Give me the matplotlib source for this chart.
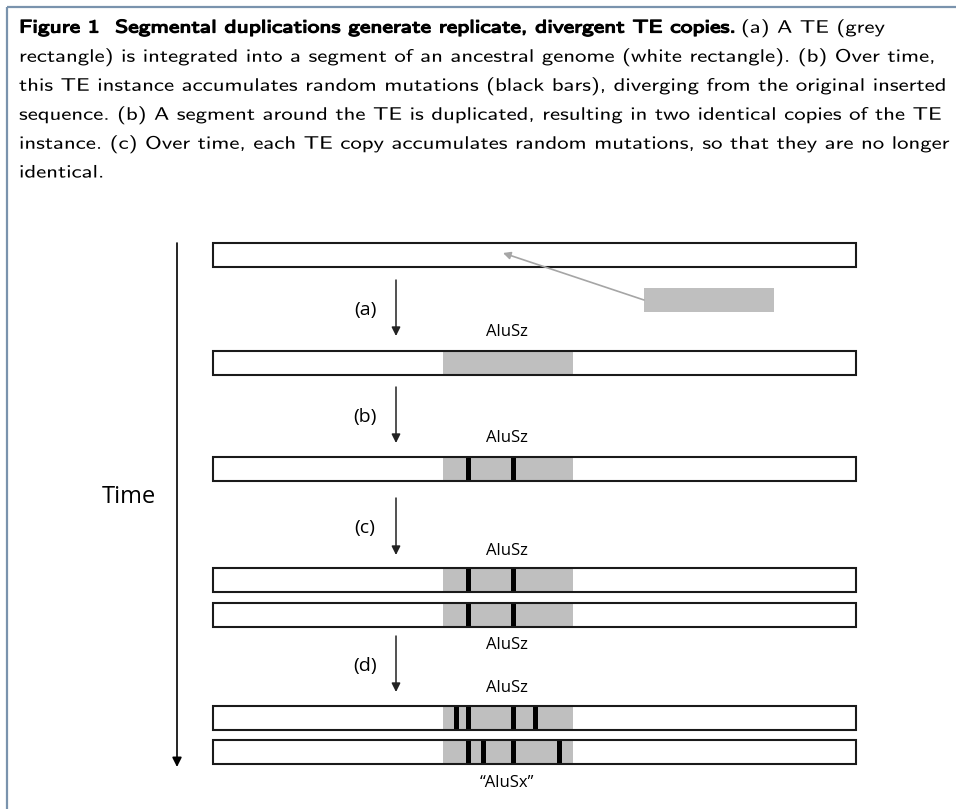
### schematic: segmental duplications make replicate, divergent TE copies
import matplotlib.pyplot as plt
from matplotlib.patches import Rectangle
from matplotlib.transforms import Affine2D
import matplotlib.patheffects as pe

### caption lines, as broken in the figure
caption_bold = "Figure 1  Segmental duplications generate replicate, divergent TE copies."
caption_first_rest = "(a) A TE (grey"
caption_lines = ["rectangle) is integrated into a segment of an ancestral genome (white rectangle). (b) Over time,",
                 "this TE instance accumulates random mutations (black bars), diverging from the original inserted",
                 "sequence. (b) A segment around the TE is duplicated, resulting in two identical copies of the TE",
                 "instance. (c) Over time, each TE copy accumulates random mutations, so that they are no longer",
                 "identical."]

### genome segments (pixel-ish units of the drawing)
seg_span = (213, 856)
te_span = (443, 573)
row_tops = [243, 351, 457, 568, 603, 706, 740]
row_has_te = [False, True, True, True, True, True, True]
row_mutations = [[], [], [469, 514], [469, 514], [469, 514],
                 [457, 469, 514, 536], [469, 484, 514, 560]]

### steps
step_labels = ["(a)", "(b)", "(c)", "(d)"]
step_arrow_y = [(280, 336), (387, 443), (498, 555), (636, 692)]
te_labels = ["AluSz", "AluSz", "AluSz", "AluSz", "AluSz", "\u201cAluSx\u201d"]
te_label_y = [332, 438, 551, 645, 688, 783]

### free TE waiting to insert
free_te = (644, 288, 130, 24)
insert_target = (503, 253)

W, H = 956, 809
row_h = 24
mut_w = 5
te_grey = '#bfbfbf'
frame_col = '#7a93ad'


class StretchX(pe.AbstractPathEffect):
    ### widen glyphs around x0 (display px); optional stroke to fake bold
    def __init__(self, sx, x0, stroke=0.0):
        super().__init__()
        self.sx, self.x0, self.stroke = sx, x0, stroke

    def draw_path(self, renderer, gc, tpath, affine, rgbFace=None):
        t = affine + Affine2D().translate(-self.x0, 0).scale(self.sx, 1).translate(self.x0, 0)
        if self.stroke > 0:
            gc0 = renderer.new_gc()
            gc0.copy_properties(gc)
            gc0.set_linewidth(self.stroke)
            gc0.set_foreground('black')
            renderer.draw_path(gc0, tpath, t, rgbFace)
            gc0.restore()
        renderer.draw_path(gc, tpath, t, rgbFace)


fig = plt.figure(figsize=(W / 100, H / 100), dpi=100)
ax = fig.add_axes([0, 0, 1, 1])
ax.set_xlim(0, W)
ax.set_ylim(H, 0)
ax.axis('off')

### frame (only top + left show in the crop)
ax.plot([7, W], [7, 7], color=frame_col, lw=1.6, solid_capstyle='butt')
ax.plot([7, 7], [7, H], color=frame_col, lw=1.6, solid_capstyle='butt')

### caption
cap_font = 'cmss10'
cap_size = 13
cap_x = 19
cap_y0 = 28
cap_dy = 29
renderer = fig.canvas.get_renderer()


def px_width(txt):
    return txt.get_window_extent(renderer).width


bold_txt = ax.text(cap_x, cap_y0, caption_bold, fontsize=cap_size, family=cap_font,
                   va='center', ha='left')
body = []
for i, line in enumerate(caption_lines):
    body.append(ax.text(cap_x, cap_y0 + (i + 1) * cap_dy, line, fontsize=cap_size,
                        family=cap_font, va='center', ha='left'))
first_rest = ax.text(0, cap_y0, caption_first_rest, fontsize=cap_size, family=cap_font,
                     va='center', ha='left')

### stretch so the longest line reaches the right edge like the original
sx = (945 - cap_x) / px_width(body[1])
sx_bold = (735 - cap_x) / px_width(bold_txt)
bold_txt.set_path_effects([StretchX(sx_bold, cap_x, stroke=0.9)])
for t in body:
    t.set_path_effects([StretchX(sx, cap_x)])
first_rest.set_x(741)
first_rest.set_path_effects([StretchX(sx, 741)])

### genome rows
for top, has_te, muts in zip(row_tops, row_has_te, row_mutations):
    ax.add_patch(Rectangle((seg_span[0], top), seg_span[1] - seg_span[0], row_h,
                           facecolor='white', edgecolor='none', zorder=2))
    if has_te:
        ax.add_patch(Rectangle((te_span[0], top), te_span[1] - te_span[0], row_h,
                               facecolor=te_grey, edgecolor='none', zorder=3))
    for m in muts:
        ax.add_patch(Rectangle((m - mut_w / 2, top), mut_w, row_h,
                               facecolor='black', edgecolor='none', zorder=4))
    ax.add_patch(Rectangle((seg_span[0], top), seg_span[1] - seg_span[0], row_h,
                           facecolor='none', edgecolor='#1a1a1a', lw=1.5, zorder=5))

### free TE and its insertion arrow
ax.add_patch(Rectangle((free_te[0], free_te[1]), free_te[2], free_te[3],
                       facecolor=te_grey, edgecolor='none', zorder=3))
ax.annotate('', xy=insert_target, xytext=(free_te[0], free_te[1] + free_te[3] / 2),
            arrowprops=dict(arrowstyle='-|>', color='#a6a6a6', lw=1.2, mutation_scale=11,
                            shrinkA=0, shrinkB=0), zorder=6)

### step arrows + labels
step_x = 396
for lab, (y0, y1) in zip(step_labels, step_arrow_y):
    ax.annotate('', xy=(step_x, y1), xytext=(step_x, y0),
                arrowprops=dict(arrowstyle='-|>', color='#222222', lw=1.1, mutation_scale=13,
                                shrinkA=0, shrinkB=0))
    ax.text(365, (y0 + y1) / 2 + 2, lab, fontsize=14, family='Open Sans', ha='center', va='center')

for lab, y in zip(te_labels, te_label_y):
    ax.text(507, y, lab, fontsize=12, family='Open Sans', ha='center', va='center')

### time axis
ax.annotate('', xy=(177, 767), xytext=(177, 243),
            arrowprops=dict(arrowstyle='-|>', color='black', lw=1.2, mutation_scale=14,
                            shrinkA=0, shrinkB=0))
ax.text(129, 497, "Time", fontsize=17, family='Open Sans', ha='center', va='center')

plt.savefig("out.png", dpi=100)
